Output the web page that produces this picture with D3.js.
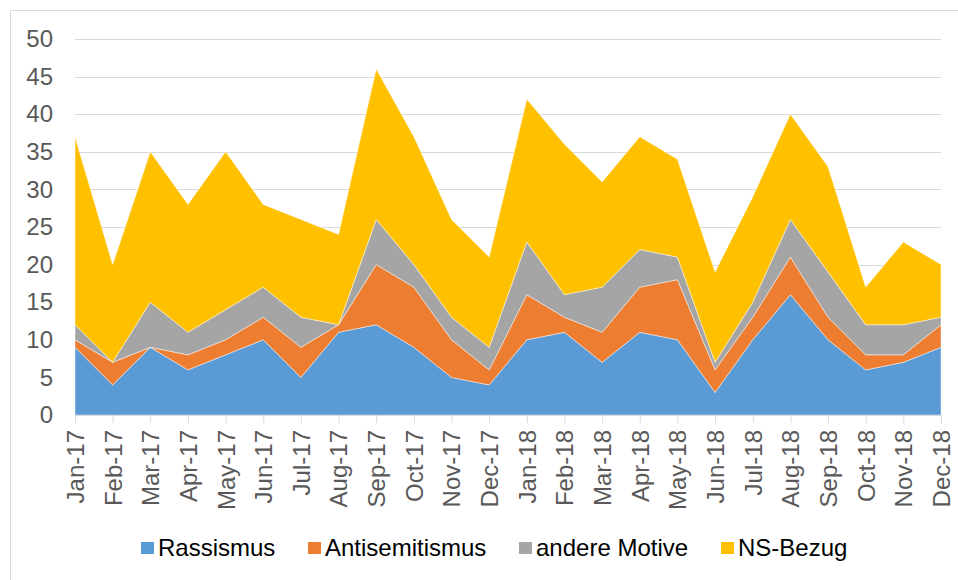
<!DOCTYPE html>
<html>
<head>
<meta charset="utf-8">
<script src="https://cdn.jsdelivr.net/npm/d3@7"></script>
<style>
  body { margin: 0; background: #fff; }
  svg { display: block; font-family: 'Liberation Sans', Arial, sans-serif; }
</style>
</head>
<body>
<svg id="chart" width="958" height="580"></svg>
<script>
// Monate
const months = ['Jan-17', 'Feb-17', 'Mar-17', 'Apr-17', 'May-17', 'Jun-17', 'Jul-17', 'Aug-17', 'Sep-17', 'Oct-17', 'Nov-17', 'Dec-17',
  'Jan-18', 'Feb-18', 'Mar-18', 'Apr-18', 'May-18', 'Jun-18', 'Jul-18', 'Aug-18', 'Sep-18', 'Oct-18', 'Nov-18', 'Dec-18'];

// Werte je Motiv
const rassismus = [9, 4, 9, 6, 8, 10, 5, 11, 12, 9, 5, 4, 10, 11, 7, 11, 10, 3, 10, 16, 10, 6, 7, 9];
const antisemitismus = [1, 3, 0, 2, 2, 3, 4, 1, 8, 8, 5, 2, 6, 2, 4, 6, 8, 3, 3, 5, 3, 2, 1, 3];
const andereMotive = [2, 0, 6, 3, 4, 4, 4, 0, 6, 3, 3, 3, 7, 3, 6, 5, 3, 1, 2, 5, 6, 4, 4, 1];
const nsBezug = [25, 13, 20, 17, 21, 11, 13, 12, 20, 17, 13, 12, 19, 20, 14, 15, 13, 12, 14, 14, 14, 5, 11, 7];

const seriesNames = ['Rassismus', 'Antisemitismus', 'andere Motive', 'NS-Bezug'];
const colors = ['#5B9BD5', '#ED7D31', '#A5A5A5', '#FFC000'];
const yTicks = [0, 5, 10, 15, 20, 25, 30, 35, 40, 45, 50];

const table = months.map((m, i) => ({
  month: m,
  'Rassismus': rassismus[i],
  'Antisemitismus': antisemitismus[i],
  'andere Motive': andereMotive[i],
  'NS-Bezug': nsBezug[i]
}));

const svg = d3.select('#chart');

// Rahmen
svg.append('rect')
  .attr('x', 10.5).attr('y', 10.5)
  .attr('width', 960).attr('height', 600)
  .style('fill', 'none')
  .style('stroke', '#d9d9d9')
  .style('stroke-width', 1);

const plot = { left: 75, right: 941, top: 39, bottom: 415 };

const xScale = d3.scalePoint().domain(months).range([plot.left, plot.right]);
const yScale = d3.scaleLinear().domain([0, 50]).range([plot.bottom, plot.top]);

// Gitterlinien
svg.append('g')
  .selectAll('line')
  .data(yTicks.filter(d => d > 0))
  .enter()
  .append('line')
  .attr('x1', plot.left).attr('x2', plot.right)
  .attr('y1', d => Math.round(yScale(d)) + 0.5)
  .attr('y2', d => Math.round(yScale(d)) + 0.5)
  .style('stroke', '#d9d9d9')
  .style('stroke-width', 1);

const stacked = d3.stack().keys(seriesNames)(table);

const area = d3.area()
  .x(d => xScale(d.data.month))
  .y0(d => yScale(d[0]))
  .y1(d => yScale(d[1]));

svg.append('g')
  .selectAll('path')
  .data(stacked)
  .enter()
  .append('path')
  .attr('d', area)
  .style('fill', (d, i) => colors[i])
  .style('stroke', '#ffffff')
  .style('stroke-opacity', 0.6)
  .style('stroke-width', 0.75);

// Y-Achse
svg.append('g')
  .attr('transform', `translate(${plot.left - 22}, 0)`)
  .call(d3.axisLeft(yScale).tickValues(yTicks).tickSize(0).tickPadding(0))
  .call(g => g.select('.domain').remove())
  .selectAll('.tick text')
  .style('fill', '#595959')
  .style('font-size', '24px')
  .style('font-family', "'Liberation Sans', Arial, sans-serif");

// X-Achse
const xAxis = svg.append('g')
  .attr('transform', `translate(0, ${plot.bottom})`)
  .call(d3.axisBottom(xScale).tickSize(8));

xAxis.select('.domain')
  .style('stroke', '#d9d9d9');

xAxis.selectAll('.tick line')
  .style('stroke', '#d9d9d9');

xAxis.selectAll('.tick text')
  .attr('transform', 'rotate(-90)')
  .attr('x', -15)
  .attr('y', 0)
  .attr('dy', '0.35em')
  .style('text-anchor', 'end')
  .style('fill', '#595959')
  .style('font-size', '24px')
  .style('font-family', "'Liberation Sans', Arial, sans-serif");

// Legende
const legendX = [141, 308, 519, 721];
const legend = svg.append('g');
seriesNames.forEach((name, i) => {
  legend.append('rect')
    .attr('x', legendX[i]).attr('y', 542)
    .attr('width', 13).attr('height', 12)
    .style('fill', colors[i]);
  legend.append('text')
    .attr('x', legendX[i] + 17).attr('y', 556)
    .style('fill', '#000')
    .style('font-size', '24px')
    .text(name);
});
</script>
</body>
</html>
